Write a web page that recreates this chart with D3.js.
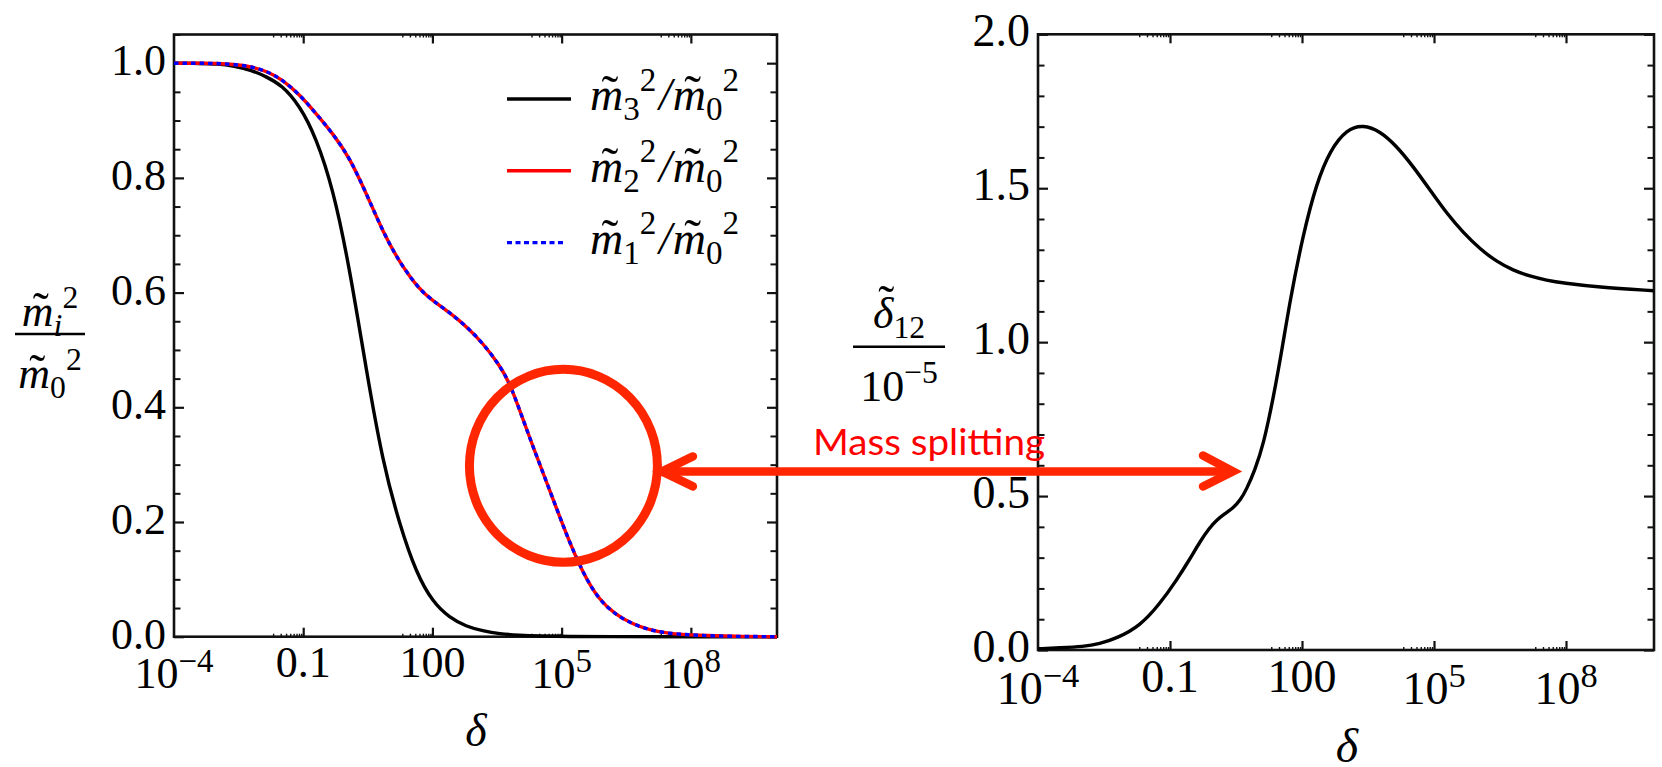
<!DOCTYPE html>
<html>
<head>
<meta charset="utf-8">
<script src="https://cdn.jsdelivr.net/npm/d3@7"></script>
<style>
  html, body { margin: 0; padding: 0; background: #fff; }
  svg { display: block; }
</style>
</head>
<body>
<svg id="chart" width="1662" height="767"></svg>
<script>
// ---- data (x values are log10 of delta) ----
const m3LogDelta = [-4, -3.4, -3, -2.6, -2.2, -1.85, -1.5, -1.08, -0.7, -0.31, 0.08, 0.47, 0.85, 1.24, 1.63, 2.01, 2.4, 2.78, 3.17, 3.56, 4.0, 4.5, 5.2, 6, 8, 10];
const m3Ratio    = [1.0, 0.9995, 0.999, 0.995, 0.988, 0.976, 0.962, 0.926, 0.87, 0.782, 0.642, 0.462, 0.303, 0.195, 0.11, 0.06, 0.033, 0.018, 0.01, 0.005, 0.0025, 0.001, 0.0003, 0, 0, 0];

const m12LogDelta = [-4, -3.4, -3, -2.63, -2.2, -1.85, -1.5, -1.08, -0.7, -0.31, 0.08, 0.47, 0.85, 1.24, 1.7, 2.01, 2.4, 2.79, 3.17, 3.56, 3.79, 4.05, 4.33, 4.72, 5.1, 5.49, 5.87, 6.26, 6.65, 7.03, 7.42, 8.2, 9, 10];
const m2Ratio     = [1.0, 1.0, 0.9995, 0.998, 0.994, 0.986, 0.972, 0.945, 0.912, 0.877, 0.835, 0.772, 0.706, 0.652, 0.605, 0.586, 0.565, 0.541, 0.512, 0.473, 0.443, 0.39, 0.332, 0.256, 0.18, 0.111, 0.064, 0.038, 0.022, 0.012, 0.006, 0.002, 0.0005, 0];
const m1Ratio     = [1.0, 1.0, 0.9995, 0.998, 0.994, 0.986, 0.972, 0.945, 0.912, 0.877, 0.835, 0.772, 0.706, 0.652, 0.605, 0.586, 0.565, 0.541, 0.512, 0.473, 0.443, 0.39, 0.332, 0.256, 0.18, 0.111, 0.064, 0.038, 0.022, 0.012, 0.006, 0.002, 0.0005, 0];

const splitLogDelta = [-4, -3.5, -2.97, -2.6, -2.21, -1.68, -1.23, -0.85, -0.55, -0.32, -0.1, 0.06, 0.25, 0.44, 0.6, 0.74, 0.93, 1.12, 1.35, 1.55, 1.73, 2.03, 2.33, 2.64, 3.02, 3.39, 3.77, 4.15, 4.53, 4.91, 5.29, 5.67, 6.05, 6.42, 6.8, 7.18, 7.56, 7.94, 8.7, 10];
const splitValue    = [0.004, 0.007, 0.011, 0.02, 0.038, 0.078, 0.15, 0.227, 0.295, 0.352, 0.397, 0.422, 0.443, 0.462, 0.487, 0.522, 0.585, 0.665, 0.82, 0.98, 1.137, 1.353, 1.516, 1.624, 1.692, 1.706, 1.686, 1.637, 1.57, 1.494, 1.418, 1.355, 1.302, 1.262, 1.233, 1.214, 1.201, 1.192, 1.179, 1.167];

// ---- ticks ----
const xMajorExp   = [-4, -1, 2, 5, 8];
const xTickLabels = [{base: "10", sup: "\u22124"}, {text: "0.1"}, {text: "100"}, {base: "10", sup: "5"}, {base: "10", sup: "8"}];
const leftYTicks  = [0, 0.2, 0.4, 0.6, 0.8, 1.0];
const leftYLabels = ["0.0", "0.2", "0.4", "0.6", "0.8", "1.0"];
const rightYTicks  = [0, 0.5, 1.0, 1.5, 2.0];
const rightYLabels = ["0.0", "0.5", "1.0", "1.5", "2.0"];

// ---- annotation ----
const annotationText = "Mass splitting";
const circleAt = {delta: 1.1e5, value: 0.298};
const arrowEndAt = {delta: 2.7, value: 0.58};

const SERIF = "'Liberation Serif', 'Times New Roman', Times, serif";
const svg = d3.select("#chart");
svg.append("rect").attr("width", 1662).attr("height", 767).attr("fill", "#fff");

// Lay out a run of math pieces (italic letters, sub/superscripts, tilde accents).
function mathText(parent, x, y, parts, size, anchor) {
  const g = parent.append("g");
  let cx = 0;
  parts.forEach(p => {
    const sz = p.pos ? size * 0.72 : size;
    const dy = p.pos === "sub" ? size * 0.22 : p.pos === "sup" ? -size * 0.42 : 0;
    const t = g.append("text")
      .attr("x", cx).attr("y", dy)
      .attr("font-family", SERIF)
      .attr("font-size", sz)
      .attr("font-style", p.it ? "italic" : "normal")
      .attr("fill", "#000")
      .text(p.t);
    const w = t.node().getComputedTextLength();
    if (p.tilde) {
      g.append("text")
        .attr("x", cx + w / 2 + sz * 0.07).attr("y", dy - (p.tildeRaise || 0) * sz)
        .attr("text-anchor", "middle")
        .attr("font-family", SERIF).attr("font-size", sz * 1.1)
        .attr("fill", "#000")
        .text("\u02DC");
    }
    cx += w + (p.kern || 0) * size;
  });
  const shift = anchor === "middle" ? -cx / 2 : anchor === "end" ? -cx : 0;
  g.attr("transform", `translate(${x + shift},${y})`);
  return cx;
}

function styleAxis(sel, width) {
  sel.select(".domain").remove();
  sel.selectAll(".tick line").attr("stroke", "#111").attr("stroke-width", width);
}

function minorXValues() {
  const out = [];
  xMajorExp.forEach(m => {
    for (let k = 2; k <= 9; k++) {
      const v = k * Math.pow(10, m - 1);
      if (v > 1e-4 && v < 1e10) out.push(v);
    }
  });
  return out;
}

function drawPanel(cfg) {
  const g = svg.append("g");
  const x = d3.scaleLog().domain([1e-4, 1e10]).range([cfg.x0, cfg.x1]);
  const y = d3.scaleLinear().domain(cfg.yDomain).range([cfg.y0, cfg.y1]);
  const majorX = xMajorExp.map(e => Math.pow(10, e)).filter(v => v > 1e-4);
  const minorX = minorXValues();

  // frame ticks (inward)
  g.append("g").attr("transform", `translate(0,${cfg.y0})`)
    .call(d3.axisBottom(x).tickValues(majorX).tickSize(-9).tickFormat(""))
    .call(s => styleAxis(s, 2.2));
  g.append("g").attr("transform", `translate(0,${cfg.y0})`)
    .call(d3.axisBottom(x).tickValues(minorX).tickSize(-3).tickFormat(""))
    .call(s => styleAxis(s, 1.4));
  g.append("g").attr("transform", `translate(0,${cfg.y1})`)
    .call(d3.axisTop(x).tickValues(majorX).tickSize(-9).tickFormat(""))
    .call(s => styleAxis(s, 2.2));
  g.append("g").attr("transform", `translate(0,${cfg.y1})`)
    .call(d3.axisTop(x).tickValues(minorX).tickSize(-3).tickFormat(""))
    .call(s => styleAxis(s, 1.4));

  const yMinor = d3.range(cfg.yDomain[0], cfg.yDomain[1] + 1e-9, cfg.minorStep)
    .filter(v => !cfg.yTicks.some(t => Math.abs(t - v) < 1e-6));
  [[d3.axisLeft, cfg.x0], [d3.axisRight, cfg.x1]].forEach(([ax, px]) => {
    g.append("g").attr("transform", `translate(${px},0)`)
      .call(ax(y).tickValues(cfg.yTicks).tickSize(-10).tickFormat(""))
      .call(s => styleAxis(s, 2.2));
    g.append("g").attr("transform", `translate(${px},0)`)
      .call(ax(y).tickValues(yMinor).tickSize(-6.5).tickFormat(""))
      .call(s => styleAxis(s, 2));
  });

  // y tick labels
  cfg.yTicks.forEach((v, i) => {
    g.append("text")
      .attr("x", cfg.x0 - 8).attr("y", y(v) + 12)
      .attr("text-anchor", "end")
      .attr("font-family", SERIF).attr("font-size", cfg.fontSize)
      .text(cfg.yLabels[i]);
  });

  // x tick labels
  xMajorExp.forEach((e, i) => {
    const lab = xTickLabels[i];
    const px = x(Math.pow(10, e));
    if (lab.text) {
      g.append("text")
        .attr("x", px).attr("y", cfg.y0 + cfg.plainDrop)
        .attr("text-anchor", "middle")
        .attr("font-family", SERIF).attr("font-size", cfg.fontSize)
        .text(lab.text);
    } else {
      const t = g.append("text")
        .attr("x", px).attr("y", cfg.y0 + cfg.powDrop)
        .attr("text-anchor", "middle")
        .attr("font-family", SERIF).attr("font-size", cfg.fontSize);
      t.append("tspan").text(lab.base);
      t.append("tspan").attr("dy", -cfg.fontSize * 0.36).attr("font-size", cfg.fontSize * 0.75).text(lab.sup);
    }
  });

  // x axis title
  g.append("text")
    .attr("x", cfg.deltaX).attr("y", cfg.deltaY)
    .attr("text-anchor", "middle")
    .attr("font-family", SERIF).attr("font-size", cfg.fontSize + 2)
    .attr("font-style", "italic")
    .text("\u03B4");

  // frame
  g.append("rect")
    .attr("x", cfg.x0).attr("y", cfg.y1)
    .attr("width", cfg.x1 - cfg.x0).attr("height", cfg.y0 - cfg.y1)
    .attr("fill", "none").attr("stroke", "#111").attr("stroke-width", 2.6);

  return {g, x, y};
}

// ---- left panel: mass ratios ----
const L = drawPanel({
  x0: 174, x1: 777, y0: 636.7, y1: 34.5, yDomain: [0, 1.05],
  yTicks: leftYTicks, yLabels: leftYLabels, minorStep: 0.05,
  fontSize: 44, plainDrop: 40.5, powDrop: 51.5, deltaX: 476, deltaY: 746
});
const lineL = (xs) => d3.line()
  .x((d, i) => L.x(Math.pow(10, xs[i])))
  .y(d => L.y(d))
  .curve(d3.curveBasis);

const plotL = L.g.append("g");
plotL.append("path").datum(m3Ratio).attr("d", lineL(m3LogDelta))
  .attr("fill", "none").attr("stroke", "#000").attr("stroke-width", 3.4);
plotL.append("path").datum(m2Ratio).attr("d", lineL(m12LogDelta))
  .attr("fill", "none").attr("stroke", "#ff0000").attr("stroke-width", 3.4);
plotL.append("path").datum(m1Ratio).attr("d", lineL(m12LogDelta))
  .attr("fill", "none").attr("stroke", "#0000ff").attr("stroke-width", 3.4)
  .attr("stroke-dasharray", "4.5,4");

// legend
const legendItems = [
  {sub: "3", stroke: "#000", dash: null, x2: 571},
  {sub: "2", stroke: "#ff0000", dash: null, x2: 571},
  {sub: "1", stroke: "#0000ff", dash: "5,3.5", x2: 566}
];
legendItems.forEach((it, i) => {
  const ly = 99 + i * 71.8;
  L.g.append("line").attr("x1", 507).attr("x2", it.x2).attr("y1", ly).attr("y2", ly)
    .attr("stroke", it.stroke).attr("stroke-width", 3.4)
    .attr("stroke-dasharray", it.dash);
  mathText(L.g, 590, ly + 11, [
    {t: "m", it: true, tilde: true},
    {t: it.sub, pos: "sub"},
    {t: "2", pos: "sup", kern: 0.06},
    {t: "/", it: true, kern: 0.02},
    {t: "m", it: true, tilde: true},
    {t: "0", pos: "sub"},
    {t: "2", pos: "sup"}
  ], 46, "start");
});

// left y title (fraction)
const yTitleL = svg.append("g");
mathText(yTitleL, 50, 326, [{t: "m", it: true, tilde: true}, {t: "i", it: true, pos: "sub"}, {t: "2", pos: "sup"}], 44, "middle");
yTitleL.append("line").attr("x1", 15).attr("x2", 85).attr("y1", 334).attr("y2", 334)
  .attr("stroke", "#000").attr("stroke-width", 2.4);
mathText(yTitleL, 50, 388, [{t: "m", it: true, tilde: true}, {t: "0", pos: "sub"}, {t: "2", pos: "sup"}], 44, "middle");

// ---- right panel: mass splitting ----
const R = drawPanel({
  x0: 1038, x1: 1654, y0: 650, y1: 34.3, yDomain: [0, 2],
  yTicks: rightYTicks, yLabels: rightYLabels, minorStep: 0.1,
  fontSize: 46, plainDrop: 41.7, powDrop: 54, deltaX: 1347, deltaY: 762
});
const lineR = d3.line()
  .x((d, i) => R.x(Math.pow(10, splitLogDelta[i])))
  .y(d => R.y(d))
  .curve(d3.curveBasis);
R.g.append("path").datum(splitValue).attr("d", lineR)
  .attr("fill", "none").attr("stroke", "#000").attr("stroke-width", 3.4);

// right y title (fraction)
const yTitleR = svg.append("g");
mathText(yTitleR, 899, 328, [{t: "\u03B4", it: true, tilde: true, tildeRaise: 0.2}, {t: "12", pos: "sub"}], 44, "middle");
yTitleR.append("line").attr("x1", 853).attr("x2", 945).attr("y1", 346.7).attr("y2", 346.7)
  .attr("stroke", "#000").attr("stroke-width", 2.4);
mathText(yTitleR, 899, 401, [{t: "10"}, {t: "\u22125", pos: "sup"}], 44, "middle");

// ---- annotation: circle, double arrow, caption ----
const ANN = "#ff2600";
const ann = svg.append("g");
const cx = L.x(circleAt.delta), cy = L.y(circleAt.value);
ann.append("ellipse").attr("cx", cx).attr("cy", cy).attr("rx", 94).attr("ry", 96.5)
  .attr("fill", "none").attr("stroke", ANN).attr("stroke-width", 9);
const ax1 = cx + 98.5, ax2 = R.x(arrowEndAt.delta), ay = R.y(arrowEndAt.value);
ann.append("line").attr("x1", ax1 + 3).attr("x2", ax2 - 3).attr("y1", ay).attr("y2", ay)
  .attr("stroke", ANN).attr("stroke-width", 8.5).attr("stroke-linecap", "round");
ann.append("path")
  .attr("d", `M${ax1 + 31},${ay - 15} L${ax1},${ay} L${ax1 + 31},${ay + 15}`)
  .attr("fill", "none").attr("stroke", ANN).attr("stroke-width", 8.5)
  .attr("stroke-linecap", "round").attr("stroke-linejoin", "miter");
ann.append("path")
  .attr("d", `M${ax2 - 30},${ay - 16} L${ax2},${ay} L${ax2 - 30},${ay + 15}`)
  .attr("fill", "none").attr("stroke", ANN).attr("stroke-width", 8.5)
  .attr("stroke-linecap", "round").attr("stroke-linejoin", "miter");
ann.append("text")
  .attr("x", 813).attr("y", 455)
  .attr("font-family", "Lato, 'Open Sans', sans-serif")
  .attr("font-size", 36)
  .attr("fill", "#ff0000")
  .attr("textLength", 232).attr("lengthAdjust", "spacingAndGlyphs")
  .text(annotationText);
</script>
</body>
</html>
